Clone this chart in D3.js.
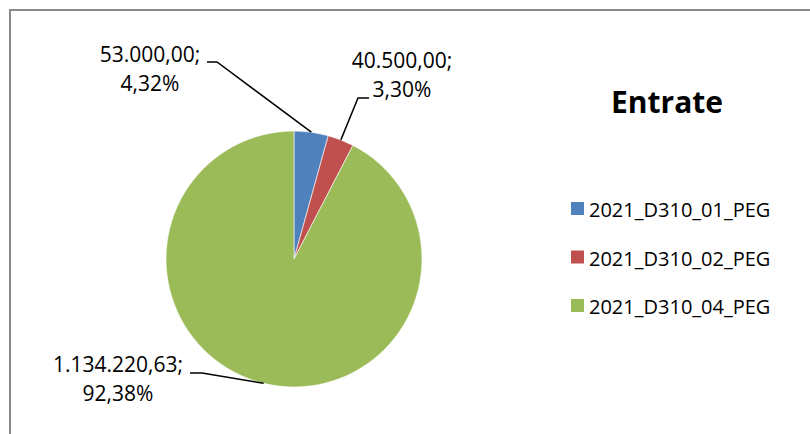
<!DOCTYPE html>
<meta charset="utf-8">
<style>
body { margin: 0; background: #fff; }
text { font-family: "Open Sans", sans-serif; fill: #000; }
.frame { fill: none; stroke: #8a8a8a; stroke-width: 2; }
.leader { fill: none; stroke: #000; stroke-width: 1.5; }
</style>
<body>
<script src="https://d3js.org/d3.v7.min.js"></script>
<script>
var categories = ['2021_D310_01_PEG', '2021_D310_02_PEG', '2021_D310_04_PEG']
var values = [53000.00, 40500.00, 1134220.63]
var valueLabels = ['53.000,00;', '40.500,00;', '1.134.220,63;']
var percentLabels = ['4,32%', '3,30%', '92,38%']
var colors = ['#4f81bd', '#c0504d', '#9bbb59']

var width = 810
var height = 434

var cx = 294, cy = 259, radius = 128

// where each label's two lines sit (centre x, first baseline) and where its leader bends
var labelPos = [
    { x: 150, y: 62, kneeX: 217, kneeY: 62, startX: 207 },
    { x: 402, y: 68, kneeX: 358, kneeY: 98, startX: 369 },
    { x: 118, y: 372, kneeX: 202, kneeY: 373, startX: 190 }
]

var svg = d3.select('body')
    .append('svg')
    .attr('width', width)
    .attr('height', height)

svg.append('rect')
    .attr('class', 'frame')
    .attr('x', 10)
    .attr('y', 10)
    .attr('width', width + 20)
    .attr('height', height + 20)

var pie = d3.pie().sort(null)
var arcs = pie(values)

var arc = d3.arc().innerRadius(0).outerRadius(radius)
var edge = d3.arc().innerRadius(radius).outerRadius(radius)

var g = svg.append('g')
    .attr('transform', 'translate(' + cx + ',' + cy + ')')

g.selectAll('path')
    .data(arcs)
    .enter().append('path')
    .attr('d', arc)
    .attr('fill', function (d, i) { return colors[i] })
    .attr('stroke', '#fff')
    .attr('stroke-width', 0.6)

// leader lines from label to slice edge
svg.selectAll('polyline.leader')
    .data(arcs)
    .enter().append('polyline')
    .attr('class', 'leader')
    .attr('points', function (d, i) {
        var p = edge.centroid(d)
        var l = labelPos[i]
        return [[l.startX, l.kneeY], [l.kneeX, l.kneeY], [cx + p[0], cy + p[1]]].join(' ')
    })

var labels = svg.selectAll('text.lbl')
    .data(arcs)
    .enter().append('text')
    .attr('class', 'lbl')
    .attr('text-anchor', 'middle')
    .style('font-size', '21px')

labels.append('tspan')
    .attr('x', function (d, i) { return labelPos[i].x })
    .attr('y', function (d, i) { return labelPos[i].y })
    .text(function (d, i) { return valueLabels[i] })

labels.append('tspan')
    .attr('x', function (d, i) { return labelPos[i].x })
    .attr('y', function (d, i) { return labelPos[i].y + 29 })
    .text(function (d, i) { return percentLabels[i] })

svg.append('text')
    .attr('x', 667)
    .attr('y', 113)
    .attr('text-anchor', 'middle')
    .style('font-size', '30px')
    .style('font-weight', 'bold')
    .text('Entrate')

var legend = svg.append('g')
    .attr('transform', 'translate(571,202)')

var item = legend.selectAll('g')
    .data(categories)
    .enter().append('g')
    .attr('transform', function (d, i) { return 'translate(0,' + (i * 48.5) + ')' })

item.append('rect')
    .attr('width', 13)
    .attr('height', 13)
    .attr('fill', function (d, i) { return colors[i] })

item.append('text')
    .attr('x', 18)
    .attr('y', 15)
    .style('font-size', '20px')
    .text(function (d) { return d })
</script>
</body>
